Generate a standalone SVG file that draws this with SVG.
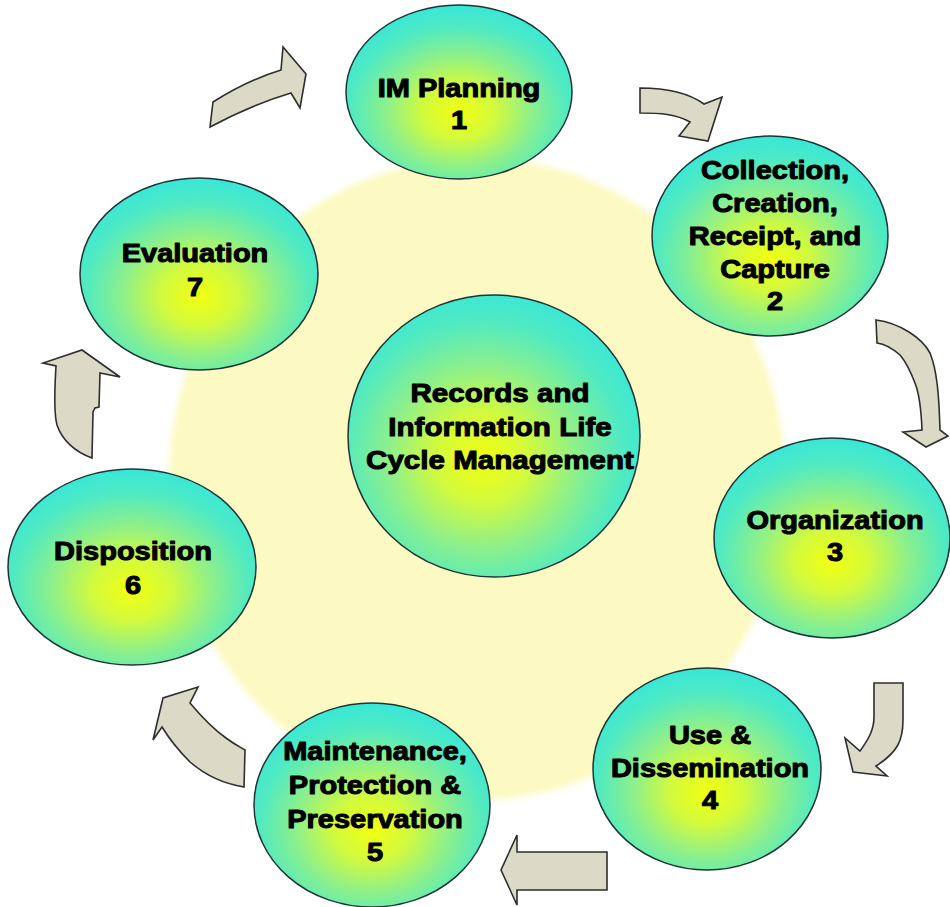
<svg xmlns="http://www.w3.org/2000/svg" width="950" height="907" viewBox="0 0 950 907">
<defs>
<style>
.node{stroke:#1e3434;stroke-width:1.5;fill:url(#ng)}
.lbl{font-family:"Liberation Sans",Arial,sans-serif;font-weight:bold;font-size:25px;fill:#000;stroke:#000;stroke-width:1;stroke-linejoin:round;text-anchor:middle}
.arr{fill:#dadac6;stroke:#2e2e2e;stroke-width:1.6;stroke-linejoin:miter}
</style>
<radialGradient id="ng" cx="0.5" cy="0.6" r="0.64" fx="0.5" fy="0.62">
<stop offset="0" stop-color="#f2ff10"/>
<stop offset="0.25" stop-color="#d2fa3e"/>
<stop offset="0.5" stop-color="#8ef08a"/>
<stop offset="0.75" stop-color="#50eac2"/>
<stop offset="1" stop-color="#30e6e0"/>
</radialGradient>
<radialGradient id="cg" cx="0.46" cy="0.57" r="0.64" fx="0.46" fy="0.58">
<stop offset="0" stop-color="#f2ff10"/>
<stop offset="0.25" stop-color="#d2fa3e"/>
<stop offset="0.5" stop-color="#8ef08a"/>
<stop offset="0.75" stop-color="#50eac2"/>
<stop offset="1" stop-color="#30e6e0"/>
</radialGradient>
<filter id="soft" x="-10%" y="-10%" width="120%" height="120%">
<feGaussianBlur stdDeviation="3"/>
</filter>
</defs>
<rect width="950" height="907" fill="#ffffff"/>
<ellipse id="backdrop" cx="477" cy="479" rx="308" ry="321" fill="#fdf9c2" filter="url(#soft)"/>

<g id="connectors">
<path class="arr" d="M213,102 C235,88 258,77 281,70 L283,47 L306,74 L300,108 L291,93 C264,101 238,112 210,127 Z"/>
<path class="arr" d="M640,88 C668,88 690,94 704,104 L722,97 L708,141 L679,136 L690,122 C676,114 660,113 640,113 Z"/>
<path class="arr" d="M876,320 C900,323 922,338 930,353 C937,370 939,395 940,430 L948,436 L926,447 L903,432 L922,430 C921,405 919,393 915,383 C910,370 906,362 900,355 C892,348 885,344 877,343 Z"/>
<path class="arr" d="M874,683 L903,683 L903,720 C903,740 898,752 876,766 L887,776 L853,772 L845,738 L860,751 C868,740 874,730 874,717 Z"/>
<path class="arr" d="M607,852 L607,890 L517,890 L517,905 L501,870 L517,835 L517,852 Z"/>
<path class="arr" d="M245,750 L244,787 C225,784 205,775 190,762 C180,752 170,740 162,727 L153,740 L163,698 L198,687 L190,703 C200,715 212,728 226,738 C234,744 240,747 245,750 Z"/>
<path class="arr" d="M92,458 C75,452 62,440 57,425 C53,410 55,385 56,366 L43,363 L82,350 L120,377 L100,373 L99,407 L95,408 L93,412 Z"/>
</g>

<g id="node1">
<ellipse class="node" cx="459" cy="92" rx="113" ry="87"/>
<g transform="translate(459 0) scale(1.16 1)">
<text class="lbl" x="0" y="97">IM Planning</text>
<text class="lbl" x="0" y="129">1</text>
</g>
</g>

<g id="node2">
<ellipse class="node" cx="770" cy="236" rx="118" ry="100"/>
<g transform="translate(775 0) scale(1.16 1)">
<text class="lbl" x="0" y="179">Collection,</text>
<text class="lbl" x="0" y="212">Creation,</text>
<text class="lbl" x="0" y="245">Receipt, and</text>
<text class="lbl" x="0" y="278">Capture</text>
<text class="lbl" x="0" y="310">2</text>
</g>
</g>

<g id="node3">
<ellipse class="node" cx="832" cy="538" rx="118" ry="100"/>
<g transform="translate(835 0) scale(1.16 1)">
<text class="lbl" x="0" y="529">Organization</text>
<text class="lbl" x="0" y="561">3</text>
</g>
</g>

<g id="node4">
<ellipse class="node" cx="707" cy="769" rx="114" ry="101"/>
<g transform="translate(710 0) scale(1.16 1)">
<text class="lbl" x="0" y="744">Use &amp;</text>
<text class="lbl" x="0" y="777">Dissemination</text>
<text class="lbl" x="0" y="809">4</text>
</g>
</g>

<g id="node5">
<ellipse class="node" cx="372" cy="805" rx="118" ry="102"/>
<g transform="translate(375 0) scale(1.16 1)">
<text class="lbl" x="0" y="760">Maintenance,</text>
<text class="lbl" x="0" y="794">Protection &amp;</text>
<text class="lbl" x="0" y="828">Preservation</text>
<text class="lbl" x="0" y="861">5</text>
</g>
</g>

<g id="node6">
<ellipse class="node" cx="132" cy="567" rx="124" ry="98"/>
<g transform="translate(133 0) scale(1.16 1)">
<text class="lbl" x="0" y="560">Disposition</text>
<text class="lbl" x="0" y="594">6</text>
</g>
</g>

<g id="node7">
<ellipse class="node" cx="199" cy="274" rx="119" ry="96"/>
<g transform="translate(195 0) scale(1.16 1)">
<text class="lbl" x="0" y="262">Evaluation</text>
<text class="lbl" x="0" y="296">7</text>
</g>
</g>

<g id="center">
<ellipse class="node" cx="494" cy="436" rx="146" ry="141" style="fill:url(#cg)"/>
<g transform="translate(500 0) scale(1.16 1)">
<text class="lbl" x="0" y="402" style="font-size:25.5px">Records and</text>
<text class="lbl" x="0" y="436" style="font-size:25.5px">Information Life</text>
<text class="lbl" x="0" y="469" style="font-size:25.5px">Cycle Management</text>
</g>
</g>
</svg>
